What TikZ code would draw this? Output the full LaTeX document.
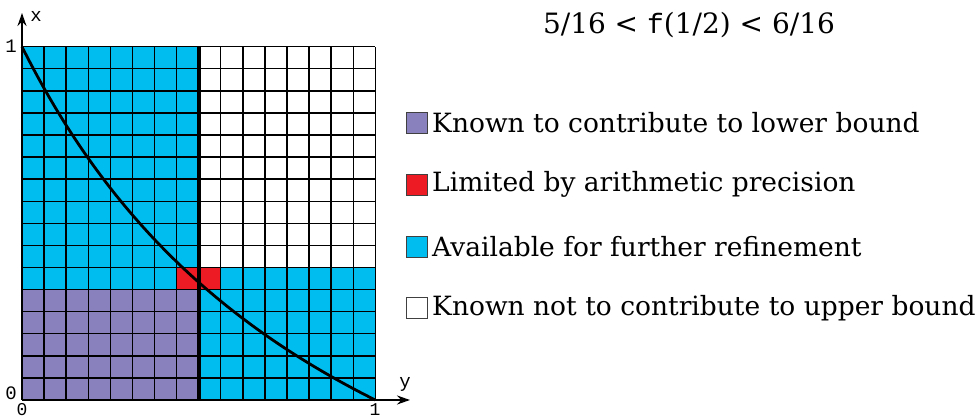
\documentclass[tikz,border=0pt]{standalone}
\usepackage{fontspec}
\setmainfont{DejaVu Serif}
\newfontfamily\monof{Liberation Mono}
\newfontfamily\titlef{DejaVu Serif}
\usetikzlibrary{arrows.meta}
\definecolor{cblue}{RGB}{0,189,240}
\definecolor{cpurple}{RGB}{137,129,190}
\definecolor{cred}{RGB}{237,28,36}
\tikzset{
  swatch/.style={draw=black!75, line width=0.8pt, minimum width=21pt, minimum height=21pt, inner sep=0pt},
  legtext/.style={anchor=west, inner sep=0pt, font=\fontsize{26.5}{30}\selectfont},
  axlabel/.style={inner sep=0pt, font=\monof\fontsize{19}{22}\selectfont},
  axisline/.style={line width=2pt, -{Stealth[length=13pt,width=9pt]}}
}
\begin{document}
\begin{tikzpicture}[x=1pt,y=1pt]
\useasboundingbox (0,0) rectangle (979,419);
\begin{scope}[shift={(22,19)}, x=22.08pt, y=22.08pt]
  \fill[cblue] (0,0) rectangle (16,16);
  \fill[white] (8,6) rectangle (16,16);
  \fill[cpurple] (0,0) rectangle (8,5);
  \fill[cred] (7,5) rectangle (9,6);
  \foreach \i in {0,...,16} {
    \draw[line width=1.4pt] (\i,0) -- (\i,16);
    \draw[line width=1.4pt] (0,\i) -- (16,\i);
  }
  \draw[line width=4pt] (8,0) -- (8,16);
  \draw[line width=2.8pt, domain=0:16, samples=100, smooth] plot (\x, {16*(16-\x)/(16+\x)});
\end{scope}
\coordinate (O) at (22,19);
\coordinate (xtip) at (22,406);
\coordinate (ytip) at (410,19);
\draw[axisline] (O) -- (xtip);
\draw[axisline] (O) -- (ytip);
\node[axlabel] (lx) at (36,403) {x};
\node[axlabel] (ly) at (405,35) {y};
\node[axlabel] (l1l) at (11,373) {1};
\node[axlabel] (l0l) at (11,26) {0};
\node[axlabel, font=\monof\fontsize{18}{20}\selectfont] (l0b) at (22,9.5) {0};
\node[axlabel, font=\monof\fontsize{18}{20}\selectfont] (l1b) at (375,9.5) {1};
\node[inner sep=0pt, font=\titlef\fontsize{28}{32}\selectfont] (title) at (689,394) {5/16 < {\monof f}(1/2) < 6/16};
\node[swatch, fill=cpurple] (s1) at (417,296) {};
\node[swatch, fill=cred] (s2) at (417,234.5) {};
\node[swatch, fill=cblue] (s3) at (417,172.5) {};
\node[swatch, fill=white] (s4) at (417,111) {};
\node[legtext] (t1) at (432,296) {Known to contribute to lower bound};
\node[legtext] (t2) at (432,234.5) {Limited by arithmetic precision};
\node[legtext] (t3) at (432,172.5) {Available for further refinement};
\node[legtext] (t4) at (432,111) {Known not to contribute to upper bound};
\end{tikzpicture}
\end{document}
